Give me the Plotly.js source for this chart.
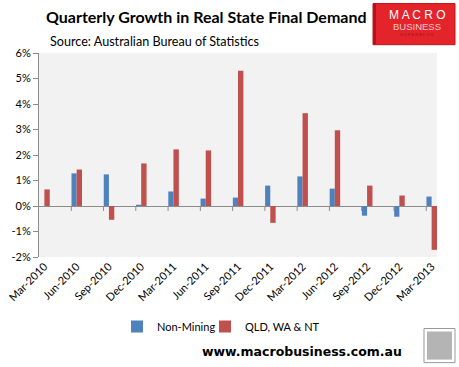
<!DOCTYPE html>
<html>
<head>
<meta charset="utf-8">
<script src="https://cdn.plot.ly/plotly-3.0.1.min.js"></script>
<style>html,body{margin:0;padding:0;background:#fff;}#chart{width:459px;height:367px;}</style>
</head>
<body>
<div id="chart"></div>
<script>
const categories = ["Mar-2010","Jun-2010","Sep-2010","Dec-2010","Mar-2011","Jun-2011","Sep-2011","Dec-2011","Mar-2012","Jun-2012","Sep-2012","Dec-2012","Mar-2013"];
const nonMining = [0.0, 1.28, 1.24, 0.05, 0.57, 0.29, 0.33, 0.80, 1.16, 0.68, -0.38, -0.42, 0.37];
const qldWaNt = [0.65, 1.43, -0.54, 1.67, 2.22, 2.18, 5.30, -0.66, 3.64, 2.97, 0.80, 0.41, -1.72];
const yTickVals = [-2,-1,0,1,2,3,4,5,6];
const yTickText = ["-2%","-1%","0%","1%","2%","3%","4%","5%","6%"];

// date axis: one unit = one month, each quarter every 3 months
const months = categories.map((c, i) => i * 3);

const font = "Lato, 'Open Sans', sans-serif";
const logoFont = "'Liberation Sans', Arial, sans-serif";

const traces = [
  {type:"bar", name:"Non-Mining", x:months, y:nonMining, offset:0.02, width:0.48,
   marker:{color:"#4f81bd"}, hoverinfo:"skip", legend:"legend"},
  {type:"bar", name:"QLD, WA & NT", x:months, y:qldWaNt, offset:0.5, width:0.5,
   marker:{color:"#c0504d"}, hoverinfo:"skip", legend:"legend2"}
];

const px = v => (v - 39) / 398;          // pixel x -> paper
const py = v => (256.7 - v) / 203.4;     // pixel y -> paper

const shapes = months.slice(1).map(m => ({
  type:"line", xref:"x", yref:"y", x0:m, x1:m, ysizemode:"pixel", yanchor:0, y0:0, y1:-5,
  line:{color:"#8c8c8c", width:1}
}));
// logo box
shapes.push({type:"rect", xref:"paper", yref:"paper", x0:px(373), x1:px(455), y0:py(45), y1:py(4),
  fillcolor:"#e3242b", line:{color:"#c4161c", width:1}, layer:"above"});
shapes.push({type:"rect", xref:"paper", yref:"paper", x0:px(373), x1:px(376), y0:py(45), y1:py(4),
  fillcolor:"#b5121b", line:{width:0}, layer:"above"});
// wolf icon box
shapes.push({type:"rect", xref:"paper", yref:"paper", x0:px(424), x1:px(455), y0:py(362), y1:py(328),
  fillcolor:"#ffffff", line:{color:"#999", width:1}});
shapes.push({type:"rect", xref:"paper", yref:"paper", x0:px(427), x1:px(452), y0:py(359), y1:py(331),
  fillcolor:"#b4b4b4", line:{width:0}});

const annotations = [
  {text:"Source: Australian Bureau of Statistics", xref:"paper", yref:"paper", x:px(48), y:py(42),
   xanchor:"left", yanchor:"middle", showarrow:false, font:{family:font, size:12.6, color:"#000"}},
  {text:"M A C R O", xref:"paper", yref:"paper", x:px(417), y:py(15), xanchor:"center", yanchor:"middle",
   showarrow:false, font:{family:logoFont, size:12, color:"#fff"}},
  {text:"BUSINESS", xref:"paper", yref:"paper", x:px(417), y:py(27), xanchor:"center", yanchor:"middle",
   showarrow:false, font:{family:logoFont, size:9.5, color:"#f6c9c9"}},
  {text:"S U P E R B L O G", xref:"paper", yref:"paper", x:px(417), y:py(35), xanchor:"center", yanchor:"middle",
   showarrow:false, font:{family:logoFont, size:4, color:"#a01018"}},
  {text:"<b>www.macrobusiness.com.au</b>", xref:"paper", yref:"paper", x:px(302), y:py(351),
   xanchor:"center", yanchor:"middle", showarrow:false, font:{family:"'DejaVu Sans', Verdana, sans-serif", size:12.5, color:"#000"}}
];

const legendBase = {orientation:"h", xanchor:"left", y:py(326), yanchor:"middle",
  font:{family:font, size:11}, bgcolor:"rgba(0,0,0,0)", itemwidth:30};

const layout = {
  width:459, height:367,
  margin:{l:39, r:22, t:53, b:110, pad:0},
  paper_bgcolor:"#ffffff", plot_bgcolor:"#f2f2f2",
  font:{family:font, size:11, color:"#000"},
  title:{text:"<b>Quarterly Growth in Real State Final Demand</b>", xref:"container", yref:"container",
    x:46/459, xanchor:"left", y:1-17/367, yanchor:"middle", font:{family:font, size:16, color:"#000"}},
  barmode:"overlay",
  showlegend:true,
  legend:Object.assign({}, legendBase, {x:px(117)}),
  legend2:Object.assign({}, legendBase, {x:px(205)}),
  xaxis:{type:"linear", range:[0,37], tickvals:months.map(m => m + 0.5), ticktext:categories,
    tickangle:-45, ticks:"", showline:false, showgrid:false, zeroline:false, fixedrange:true,
    tickfont:{family:font, size:11}},
  yaxis:{range:[-2,6], tickvals:yTickVals, ticktext:yTickText, ticks:"outside", ticklen:5, tickcolor:"#8c8c8c",
    showline:true, linecolor:"#8c8c8c", linewidth:1, showgrid:false, zeroline:true, zerolinecolor:"#8c8c8c",
    zerolinewidth:1, fixedrange:true, tickfont:{family:font, size:11}},
  shapes:shapes,
  annotations:annotations
};

Plotly.newPlot("chart", traces, layout, {displayModeBar:false, staticPlot:true});
</script>
</body>
</html>
